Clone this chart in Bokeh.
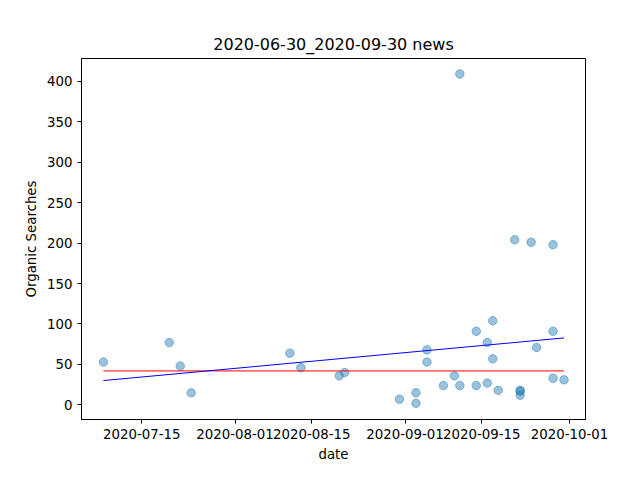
import numpy as np, pandas as pd
from bokeh.plotting import figure
from bokeh.models import DatetimeTickFormatter, FixedTicker, Range1d
from bokeh.embed import file_html
from bokeh.resources import INLINE

dates = ["2020-07-08","2020-07-20","2020-07-22","2020-07-24","2020-08-11","2020-08-13",
         "2020-08-20","2020-08-21","2020-08-31","2020-09-03","2020-09-03","2020-09-05","2020-09-05",
         "2020-09-08","2020-09-10","2020-09-11","2020-09-11","2020-09-14","2020-09-14",
         "2020-09-16","2020-09-16","2020-09-17","2020-09-17","2020-09-18","2020-09-21",
         "2020-09-22","2020-09-22","2020-09-22","2020-09-24","2020-09-25","2020-09-28",
         "2020-09-28","2020-09-28","2020-09-30"]
searches = [53,77,48,15,64,46,36,40,7,15,2,68,53,24,36,409,24,91,24,77,27,104,57,18,204,
            17,12,18,201,71,198,91,33,31]
tick_labels = ["2020-07-15","2020-08-01","2020-08-15","2020-09-01","2020-09-15","2020-10-01"]
baseline = 42

x = pd.to_datetime(dates)
xs = x.astype("int64") // 10**6
days = (xs - xs.min()) / 86400000.0
k, b = np.polyfit(days, searches, 1)
xe = [x.min(), x.max()]

p = figure(width=624, height=464, output_backend="svg", toolbar_location=None,
           x_axis_type="datetime", title="2020-06-30_2020-09-30 news",
           x_range=Range1d(pd.Timestamp("2020-07-04").value//10**6, pd.Timestamp("2020-10-03 22:00").value//10**6),
           y_range=Range1d(-18, 428), min_border_left=81, min_border_right=39,
           min_border_top=58, min_border_bottom=37)
p.title.align = "center"; p.title.text_font_size = "12pt"; p.title.text_font_style = "normal"
p.title.text_font = "DejaVu Sans"; p.title.text_color = "black"
p.grid.visible = False
p.outline_line_color = "black"
p.xaxis.ticker = FixedTicker(ticks=[pd.Timestamp(t).value//10**6 for t in tick_labels])
p.xaxis.formatter = DatetimeTickFormatter(days="%Y-%m-%d", months="%Y-%m-%d")
p.yaxis.ticker = FixedTicker(ticks=list(range(0, 401, 50)))
p.xaxis.axis_label = "date"; p.yaxis.axis_label = "Organic Searches"
for ax in (p.xaxis, p.yaxis):
    ax.axis_label_text_font_style = "normal"; ax.axis_label_text_font = "DejaVu Sans"
    ax.axis_label_text_font_size = "10pt"; ax.major_label_text_font = "DejaVu Sans"
    ax.major_label_text_font_size = "10pt"; ax.minor_tick_line_color = None
    ax.major_tick_out = 4; ax.major_tick_in = 0; ax.axis_line_color = "black"
    ax.major_label_text_color = "black"; ax.axis_label_text_color = "black"
p.scatter(x, searches, size=8.5, color="#1f77b4", alpha=0.45)
p.line(xe, [baseline, baseline], color="red", line_width=1)
p.line(xe, [b, b + k*days.max()], color="blue", line_width=1)
open("out.html", "w").write(file_html(p, INLINE))
